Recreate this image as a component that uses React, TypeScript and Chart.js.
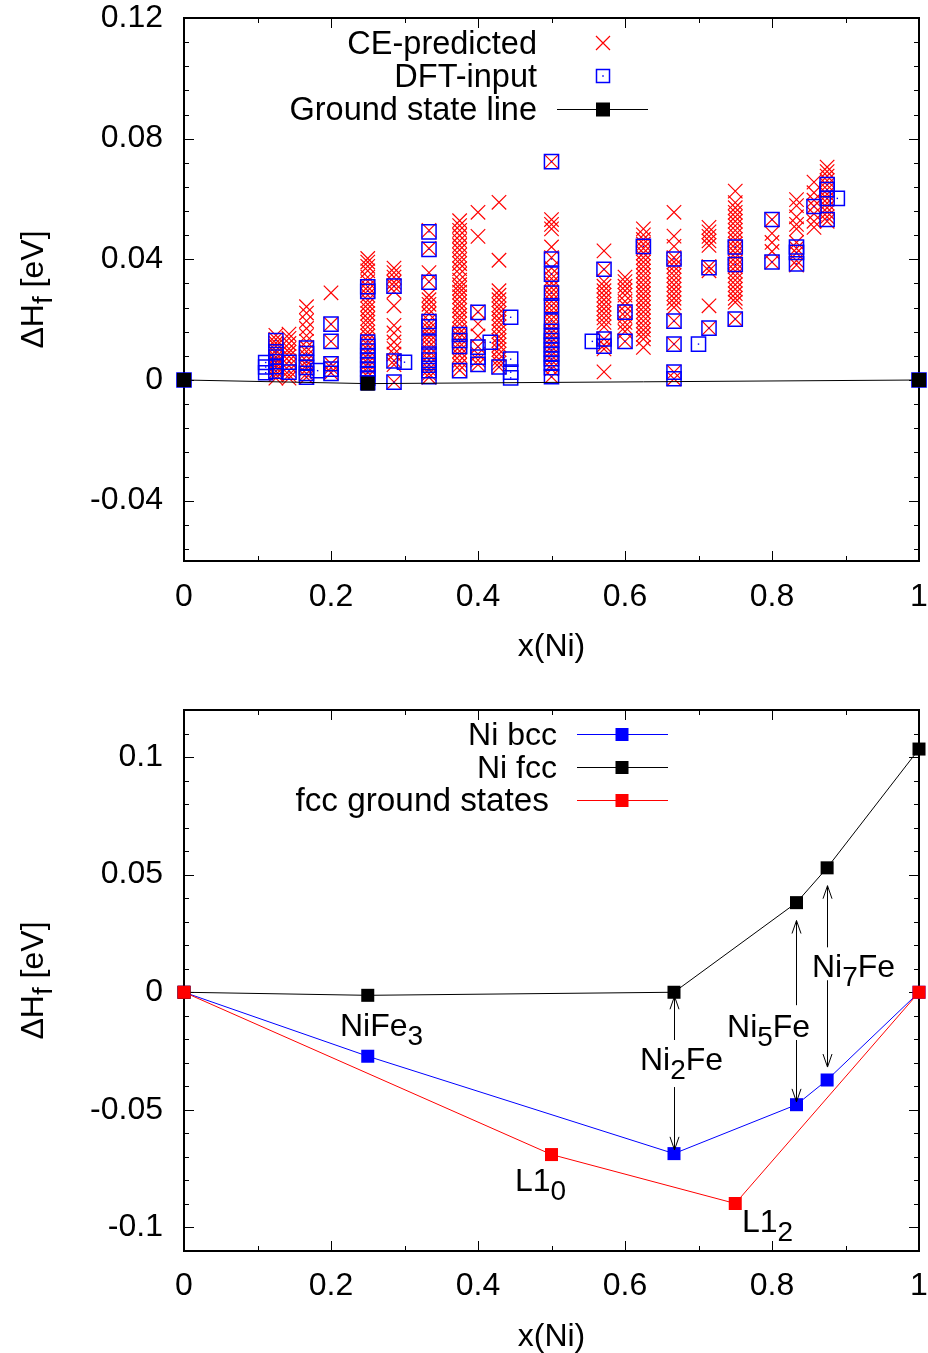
import React, { useEffect, useRef } from 'react';
import { Chart, registerables } from 'chart.js';

Chart.register(...registerables);

const FONT = '"Liberation Sans", Arial, Helvetica, sans-serif';
const FS = 32;
const SUB_FS = 28;
const SUB_DY = 9;

// ---------- Top chart data ----------
const ceCompositions = [
  0.125, 0.142857, 0.166667, 0.2, 0.25, 0.285714, 0.333333, 0.375, 0.4, 0.428571, 0.5,
  0.571429, 0.6, 0.625, 0.666667, 0.714286, 0.75, 0.8, 0.833333, 0.857143, 0.875,
];
const ceValues: number[][] = [
  [0.0148, 0.0135, 0.0122, 0.0112, 0.0098, 0.0088, 0.0076, 0.0068, 0.0058, 0.0049, 0.0041, 0.0029, 0.0018, 0.0006],
  [0.0152, 0.0138, 0.0121, 0.0104, 0.0092, 0.0078, 0.0063, 0.0047, 0.0031, 0.0017, 0.0006],
  [0.0243, 0.0222, 0.0196, 0.0171, 0.0147, 0.0128, 0.0108, 0.0094, 0.0079, 0.0063, 0.0049, 0.0036, 0.0021, 0.0009],
  [0.0289, 0.0185, 0.0128, 0.0054, 0.0041, 0.0024],
  [0.0403, 0.0391, 0.0377, 0.0362, 0.0341, 0.0326, 0.0309, 0.0296, 0.0281, 0.0264, 0.0251, 0.0236, 0.0221, 0.0204,
    0.0191, 0.0176, 0.0159, 0.0146, 0.0131, 0.0117, 0.0101, 0.0086, 0.0071, 0.0056, 0.0042, 0.0026, 0.0011],
  [0.0371, 0.0356, 0.0341, 0.0324, 0.0311, 0.0294, 0.0246, 0.0181, 0.0156, 0.0126, 0.0104, 0.0086, 0.0064, 0.0051, -0.0007],
  [0.0496, 0.0436, 0.0356, 0.0326, 0.0281, 0.0266, 0.0251, 0.0234, 0.0219, 0.0196, 0.0181, 0.0169, 0.0154, 0.0141,
    0.0126, 0.0111, 0.0096, 0.0081, 0.0066, 0.0051, 0.0036, 0.0021, 0.0009],
  [0.0528, 0.0512, 0.0496, 0.0479, 0.0462, 0.0446, 0.0431, 0.0414, 0.0399, 0.0386, 0.0369, 0.0351, 0.0331, 0.0316,
    0.0304, 0.0291, 0.0276, 0.0259, 0.0246, 0.0231, 0.0214, 0.0201, 0.0186, 0.0169, 0.0156, 0.0141, 0.0124, 0.0111,
    0.0096, 0.0081, 0.0064, 0.0049, 0.0033],
  [0.0556, 0.0476, 0.0226, 0.0186, 0.0146, 0.0111, 0.0086, 0.0066, 0.0051],
  [0.0589, 0.0397, 0.0296, 0.0281, 0.0266, 0.0249, 0.0236, 0.0221, 0.0204, 0.0191, 0.0176, 0.0161, 0.0144, 0.0131,
    0.0116, 0.0101, 0.0086, 0.0069, 0.0056, 0.0043],
  [0.0724, 0.0532, 0.0516, 0.0501, 0.0441, 0.0406, 0.0371, 0.0351, 0.0336, 0.0321, 0.0306, 0.0291, 0.0276, 0.0261,
    0.0246, 0.0231, 0.0216, 0.0201, 0.0186, 0.0171, 0.0156, 0.0141, 0.0126, 0.0111, 0.0096, 0.0081, 0.0066, 0.0051,
    0.0036, 0.0011],
  [0.0428, 0.0367, 0.0326, 0.0311, 0.0296, 0.0281, 0.0266, 0.0251, 0.0236, 0.0221, 0.0206, 0.0191, 0.0176, 0.0136, 0.0116, 0.0103, 0.0027],
  [0.0341, 0.0326, 0.0311, 0.0296, 0.0281, 0.0261, 0.0246, 0.0226, 0.0211, 0.0191, 0.0176, 0.0161, 0.0128],
  [0.0501, 0.0481, 0.0466, 0.0451, 0.0436, 0.0421, 0.0406, 0.0391, 0.0376, 0.0361, 0.0346, 0.0331, 0.0316, 0.0301,
    0.0286, 0.0271, 0.0256, 0.0241, 0.0226, 0.0211, 0.0196, 0.0181, 0.0166, 0.0151, 0.0136, 0.0108],
  [0.0556, 0.0477, 0.0443, 0.0406, 0.0391, 0.0376, 0.0361, 0.0346, 0.0331, 0.0316, 0.0301, 0.0286, 0.0271, 0.0256,
    0.0241, 0.0196, 0.0119, 0.0026, 0.0004],
  [0.0506, 0.0491, 0.0476, 0.0461, 0.0446, 0.0376, 0.0362, 0.0246, 0.0172],
  [0.0626, 0.0588, 0.0571, 0.0556, 0.0541, 0.0526, 0.0511, 0.0496, 0.0481, 0.0466, 0.0451, 0.0436, 0.0421, 0.0406,
    0.0391, 0.0376, 0.0361, 0.0346, 0.0331, 0.0316, 0.0301, 0.0286, 0.0271, 0.0258, 0.0202],
  [0.0532, 0.0486, 0.0456, 0.0426, 0.0391],
  [0.0598, 0.0578, 0.0541, 0.0516, 0.0501, 0.0456, 0.0436, 0.0421, 0.0396, 0.0381],
  [0.0656, 0.0621, 0.0596, 0.0576, 0.0551, 0.0526, 0.0506],
  [0.0706, 0.0691, 0.0676, 0.0661, 0.0646, 0.0631, 0.0616, 0.0601, 0.0586, 0.0571, 0.0556, 0.0541, 0.0526],
];

const dftCompositions = [
  0, 0.111111, 0.125, 0.142857, 0.166667, 0.181818, 0.2, 0.25, 0.285714, 0.3, 0.333333, 0.375, 0.4, 0.416667,
  0.428571, 0.444444, 0.5, 0.555556, 0.571429, 0.6, 0.625, 0.666667, 0.7, 0.714286, 0.75, 0.8, 0.833333,
  0.857143, 0.875, 0.888889, 1,
];
const dftValues: number[][] = [
  [0],
  [0.0058, 0.0043, 0.0024],
  [0.0131, 0.0093, 0.0076, 0.0061, 0.0044, 0.0029],
  [0.0059, 0.0026],
  [0.0106, 0.0088, 0.0058, 0.0042, 0.0022, 0.0009],
  [0.0031],
  [0.0185, 0.0128, 0.0054, 0.0036, 0.0022],
  [0.0309, 0.0294, 0.0126, 0.0111, 0.0096, 0.0081, 0.0066, 0.0051, 0.0036, 0.0021, 0.0006, -0.0009],
  [0.0311, 0.0063, -0.0007],
  [0.0059],
  [0.0491, 0.0433, 0.0324, 0.0194, 0.0176, 0.0126, 0.0086, 0.0066, 0.0049, 0.0031, 0.0011],
  [0.0151, 0.0131, 0.0111, 0.0031],
  [0.0224, 0.0109, 0.0076, 0.0052],
  [0.0125],
  [0.0043],
  [0.0208, 0.0069, 0.0026, 0.0007],
  [0.0724, 0.0401, 0.0351, 0.0288, 0.0246, 0.0195, 0.0161, 0.0146, 0.0131, 0.0116, 0.0101, 0.0086, 0.0071, 0.0056, 0.0041, 0.0011],
  [0.0128],
  [0.0367, 0.0136, 0.0112],
  [0.0225, 0.0128],
  [0.0443],
  [0.0401, 0.0195, 0.0119, 0.0026, 0.0004],
  [0.0119],
  [0.0372, 0.0172],
  [0.0441, 0.0383, 0.0202],
  [0.0532, 0.0391],
  [0.0441, 0.0423, 0.0385],
  [0.0575],
  [0.0648, 0.0631, 0.0602, 0.0532],
  [0.0602],
  [0],
];

const groundStateX = [0, 0.25, 1];
const groundStateY = [0, -0.0012, 0];

const xTickValues = [0, 0.2, 0.4, 0.6, 0.8, 1];
const xTickLabels = ['0', '0.2', '0.4', '0.6', '0.8', '1'];
const topYTickValues = [-0.04, 0, 0.04, 0.08, 0.12];
const topYTickLabels = ['-0.04', '0', '0.04', '0.08', '0.12'];

// ---------- Bottom chart data ----------
const bccX = [0, 0.25, 0.666667, 0.833333, 0.875, 1];
const bccY = [0, -0.0272, -0.0686, -0.0478, -0.0373, 0];
const fccX = [0, 0.25, 0.666667, 0.833333, 0.875, 1];
const fccY = [0, -0.0013, 0, 0.0381, 0.0529, 0.1034];
const gsX = [0, 0.5, 0.75, 1];
const gsY = [0, -0.069, -0.0898, 0];

const botYTickValues = [-0.1, -0.05, 0, 0.05, 0.1];
const botYTickLabels = ['-0.1', '-0.05', '0', '0.05', '0.1'];

// structure labels: text, subscript, trailing text, left x (data), baseline y (data)
const labelMain = ['NiFe', 'Ni', 'Ni', 'Ni', 'L1', 'L1'];
const labelSub = ['3', '2', '5', '7', '0', '2'];
const labelTail = ['', 'Fe', 'Fe', 'Fe', '', ''];
const labelX = [0.2122, 0.6204, 0.7388, 0.8544, 0.4503, 0.7592];
const labelY = [-0.0186, -0.033, -0.019, 0.0065, -0.0845, -0.1019];

// arrows: x, tail y, tip y (data)
const arrowX = [0.666667, 0.666667, 0.833333, 0.833333, 0.875, 0.875];
const arrowFrom = [-0.0203, -0.0403, -0.0055, -0.0203, 0.0191, 0.0051];
const arrowTo = [-0.0017, -0.067, 0.0305, -0.0466, 0.0453, -0.0318];

// ---------- helpers ----------
type Part = { t: string; sub?: boolean };

function drawRich(
  ctx: CanvasRenderingContext2D,
  parts: Part[],
  x: number,
  y: number,
  align: 'left' | 'right' | 'center',
  size: number = FS,
) {
  const main = `${size}px ${FONT}`;
  const sub = `${SUB_FS}px ${FONT}`;
  const widths = parts.map((p) => {
    ctx.font = p.sub ? sub : main;
    return ctx.measureText(p.t).width;
  });
  const total = widths.reduce((a, b) => a + b, 0);
  let cx = align === 'left' ? x : align === 'right' ? x - total : x - total / 2;
  ctx.textAlign = 'left';
  ctx.textBaseline = 'alphabetic';
  ctx.fillStyle = '#000';
  parts.forEach((p, i) => {
    ctx.font = p.sub ? sub : main;
    ctx.fillText(p.t, cx, y + (p.sub ? SUB_DY : 0));
    cx += widths[i];
  });
}

function range(from: number, to: number, step: number) {
  const out: number[] = [];
  for (let v = from; v <= to + step * 1e-6; v += step) out.push(Math.round(v * 1e6) / 1e6);
  return out;
}

function makeFramePlugin(xMajor: number[], xMinor: number[], yMajor: number[], yMinor: number[]) {
  return {
    id: 'gpFrame',
    beforeDatasetsDraw(chart: any) {
      const { ctx, chartArea: a } = chart;
      const xs = chart.scales.x;
      const ys = chart.scales.y;
      ctx.save();
      ctx.strokeStyle = '#000';
      ctx.lineWidth = 1;
      ctx.beginPath();
      const xt = (v: number, len: number) => {
        const p = Math.round(xs.getPixelForValue(v)) + 0.5;
        ctx.moveTo(p, a.bottom);
        ctx.lineTo(p, a.bottom - len);
        ctx.moveTo(p, a.top);
        ctx.lineTo(p, a.top + len);
      };
      const yt = (v: number, len: number) => {
        const p = Math.round(ys.getPixelForValue(v)) + 0.5;
        ctx.moveTo(a.left, p);
        ctx.lineTo(a.left + len, p);
        ctx.moveTo(a.right, p);
        ctx.lineTo(a.right - len, p);
      };
      xMajor.forEach((v) => xt(v, 10));
      xMinor.forEach((v) => xt(v, 5));
      yMajor.forEach((v) => yt(v, 10));
      yMinor.forEach((v) => yt(v, 5));
      ctx.stroke();
      ctx.lineWidth = 2;
      ctx.strokeRect(a.left, a.top, a.right - a.left, a.bottom - a.top);
      ctx.restore();
    },
  };
}

function drawSquare(ctx: CanvasRenderingContext2D, x: number, y: number, size: number, color: string) {
  ctx.fillStyle = color;
  ctx.fillRect(x - size / 2, y - size / 2, size, size);
}

function drawAxisTitles(chart: any, xBaseline: number) {
  const { ctx, chartArea: a } = chart;
  ctx.save();
  drawRich(ctx, [{ t: 'x(Ni)' }], (a.left + a.right) / 2, xBaseline, 'center');
  ctx.translate(43, (a.top + a.bottom) / 2);
  ctx.rotate(-Math.PI / 2);
  drawRich(ctx, [{ t: 'ΔH' }, { t: 'f', sub: true }, { t: ' [eV]' }], 0, 0, 'center');
  ctx.restore();
}

const topDecor = {
  id: 'topDecor',
  afterDatasetsDraw(chart: any) {
    const { ctx } = chart;
    drawAxisTitles(chart, 656);
    ctx.save();
    drawRich(ctx, [{ t: 'CE-predicted' }], 537, 54, 'right', 32.5);
    drawRich(ctx, [{ t: 'DFT-input' }], 537, 87, 'right', 32.5);
    drawRich(ctx, [{ t: 'Ground state line' }], 537, 120, 'right', 32.5);
    // CE marker
    ctx.strokeStyle = '#ff0000';
    ctx.lineWidth = 1.2;
    ctx.beginPath();
    ctx.moveTo(603 - 7, 43 - 7);
    ctx.lineTo(603 + 7, 43 + 7);
    ctx.moveTo(603 + 7, 43 - 7);
    ctx.lineTo(603 - 7, 43 + 7);
    ctx.stroke();
    // DFT marker
    ctx.strokeStyle = '#0000ff';
    ctx.lineWidth = 1.5;
    ctx.strokeRect(603 - 6.5, 76 - 6.5, 13, 13);
    drawSquare(ctx, 603, 76, 1.5, '#0000ff');
    // GS line sample
    ctx.strokeStyle = '#000';
    ctx.lineWidth = 1;
    ctx.beginPath();
    ctx.moveTo(557, 109.5);
    ctx.lineTo(648, 109.5);
    ctx.stroke();
    drawSquare(ctx, 603, 109.5, 14, '#000');
    ctx.restore();
  },
};

const bottomDecor = {
  id: 'bottomDecor',
  afterDatasetsDraw(chart: any) {
    const { ctx } = chart;
    const xs = chart.scales.x;
    const ys = chart.scales.y;
    drawAxisTitles(chart, 670);
    ctx.save();
    const legendText = ['Ni bcc', 'Ni fcc', 'fcc ground states'];
    const legendColor = ['#0000ff', '#000000', '#ff0000'];
    const legendBase = [69, 102, 135];
    const legendRight = [557, 557, 549];
    legendText.forEach((t, i) => {
      drawRich(ctx, [{ t }], legendRight[i], legendBase[i], 'right', i === 2 ? 33.3 : 32);
      const cy = legendBase[i] - 11.5;
      ctx.strokeStyle = legendColor[i];
      ctx.lineWidth = 1;
      ctx.beginPath();
      ctx.moveTo(577, Math.round(cy) + 0.5);
      ctx.lineTo(668, Math.round(cy) + 0.5);
      ctx.stroke();
      drawSquare(ctx, 622, Math.round(cy) + 0.5, 13, legendColor[i]);
    });
    // arrows
    ctx.strokeStyle = '#000';
    ctx.lineWidth = 1;
    arrowX.forEach((xv, i) => {
      const x = Math.round(xs.getPixelForValue(xv)) + 0.5;
      const y0 = ys.getPixelForValue(arrowFrom[i]);
      const y1 = ys.getPixelForValue(arrowTo[i]);
      const dir = y1 < y0 ? -1 : 1;
      ctx.beginPath();
      ctx.moveTo(x, y0);
      ctx.lineTo(x, y1);
      ctx.moveTo(x - 4.5, y1 - dir * 13);
      ctx.lineTo(x, y1);
      ctx.lineTo(x + 4.5, y1 - dir * 13);
      ctx.stroke();
    });
    // structure labels
    labelMain.forEach((m, i) => {
      const parts: Part[] = [{ t: m }, { t: labelSub[i], sub: true }];
      if (labelTail[i]) parts.push({ t: labelTail[i] });
      drawRich(ctx, parts, xs.getPixelForValue(labelX[i]), ys.getPixelForValue(labelY[i]), 'left');
    });
    ctx.restore();
  },
};

function scaleOptions(
  tickValues: number[],
  tickLabels: string[],
  min: number,
  max: number,
  size: number,
  horizontal: boolean,
  padding: number,
) {
  return {
    type: 'linear' as const,
    position: horizontal ? ('bottom' as const) : ('left' as const),
    min,
    max,
    afterFit: (s: any) => {
      if (horizontal) s.height = size;
      else s.width = size;
      s.paddingLeft = 0;
      s.paddingRight = 0;
      s.paddingTop = 0;
      s.paddingBottom = 0;
    },
    afterBuildTicks: (s: any) => {
      s.ticks = tickValues.map((v) => ({ value: v }));
    },
    ticks: {
      callback: (_v: any, i: number) => tickLabels[i],
      font: { family: FONT, size: FS },
      color: '#000',
      padding,
      maxRotation: 0,
      autoSkip: false,
    },
    grid: { display: false, drawTicks: false },
    border: { display: false },
  };
}

function pts(xs: number[], ys: number[]) {
  return xs.map((x, i) => ({ x, y: ys[i] }));
}

export default function App() {
  const topRef = useRef<HTMLCanvasElement>(null);
  const botRef = useRef<HTMLCanvasElement>(null);

  useEffect(() => {
    const cePoints: { x: number; y: number }[] = [];
    ceCompositions.forEach((c, i) => ceValues[i].forEach((v) => cePoints.push({ x: c, y: v })));
    const dftPoints: { x: number; y: number }[] = [];
    dftCompositions.forEach((c, i) => dftValues[i].forEach((v) => dftPoints.push({ x: c, y: v })));

    const top = new Chart(topRef.current!, {
      type: 'scatter',
      data: {
        datasets: [
          {
            label: 'CE-predicted',
            data: cePoints,
            pointStyle: 'crossRot',
            pointRadius: 10.2,
            pointBorderColor: '#ff0000',
            pointBackgroundColor: '#ff0000',
            pointBorderWidth: 1.2,
            order: 3,
            clip: false,
          } as any,
          {
            label: 'DFT-input',
            data: dftPoints,
            pointStyle: 'rect',
            pointRadius: 10,
            pointBorderColor: '#0000ff',
            pointBackgroundColor: 'rgba(0,0,0,0)',
            pointBorderWidth: 1.5,
            order: 2,
            clip: false,
          } as any,
          {
            label: 'DFT-input centre',
            data: dftPoints,
            pointStyle: 'rect',
            pointRadius: 1,
            pointBackgroundColor: '#0000ff',
            pointBorderWidth: 0,
            order: 2,
            clip: false,
          } as any,
          {
            label: 'Ground state line',
            data: pts(groundStateX, groundStateY),
            showLine: true,
            borderColor: '#000000',
            borderWidth: 1,
            pointStyle: 'rect',
            pointRadius: 10,
            pointBackgroundColor: '#000000',
            pointBorderWidth: 0,
            order: 1,
            clip: false,
          } as any,
        ],
      },
      options: {
        responsive: false,
        animation: false,
        events: [],
        layout: { padding: { top: 18, right: 9, left: 0, bottom: 0 }, autoPadding: false } as any,
        plugins: { legend: { display: false }, tooltip: { enabled: false } },
        scales: {
          x: scaleOptions(xTickValues, xTickLabels, 0, 1, 115, true, 17) as any,
          y: scaleOptions(topYTickValues, topYTickLabels, -0.06, 0.12, 184, false, 21) as any,
        },
      },
      plugins: [
        makeFramePlugin(xTickValues, range(0.1, 0.9, 0.2), topYTickValues, range(-0.056, 0.112, 0.008).filter((v) => !topYTickValues.some((m) => Math.abs(m - v) < 1e-6))),
        topDecor,
      ],
    });

    const bottom = new Chart(botRef.current!, {
      type: 'scatter',
      data: {
        datasets: [
          {
            label: 'Ni bcc',
            data: pts(bccX, bccY),
            showLine: true,
            borderColor: '#0000ff',
            borderWidth: 1,
            pointStyle: 'rect',
            pointRadius: 9.2,
            pointBackgroundColor: '#0000ff',
            pointBorderWidth: 0,
            order: 2,
            clip: false,
          } as any,
          {
            label: 'Ni fcc',
            data: pts(fccX, fccY),
            showLine: true,
            borderColor: '#000000',
            borderWidth: 1,
            pointStyle: 'rect',
            pointRadius: 9.2,
            pointBackgroundColor: '#000000',
            pointBorderWidth: 0,
            order: 1,
            clip: false,
          } as any,
          {
            label: 'fcc ground states',
            data: pts(gsX, gsY),
            showLine: true,
            borderColor: '#ff0000',
            borderWidth: 1,
            pointStyle: 'rect',
            pointRadius: 9.2,
            pointBackgroundColor: '#ff0000',
            pointBorderWidth: 0,
            order: 0,
            clip: false,
          } as any,
        ],
      },
      options: {
        responsive: false,
        animation: false,
        events: [],
        layout: { padding: { top: 34, right: 9, left: 0, bottom: 0 }, autoPadding: false } as any,
        plugins: { legend: { display: false }, tooltip: { enabled: false } },
        scales: {
          x: scaleOptions(xTickValues, xTickLabels, 0, 1, 102, true, 16) as any,
          y: scaleOptions(botYTickValues, botYTickLabels, -0.11, 0.12, 184, false, 21) as any,
        },
      },
      plugins: [
        makeFramePlugin(xTickValues, range(0.1, 0.9, 0.2), botYTickValues, range(-0.1, 0.11, 0.01).filter((v) => !botYTickValues.some((m) => Math.abs(m - v) < 1e-6))),
        bottomDecor,
      ],
    });

    return () => {
      top.destroy();
      bottom.destroy();
    };
  }, []);

  return (
    <div style={{ position: 'absolute', left: 0, top: 0, width: 928, height: 1353, background: '#fff' }}>
      <canvas ref={topRef} width={928} height={676} style={{ display: 'block', width: 928, height: 676 }} />
      <canvas ref={botRef} width={928} height={677} style={{ display: 'block', width: 928, height: 677 }} />
    </div>
  );
}
